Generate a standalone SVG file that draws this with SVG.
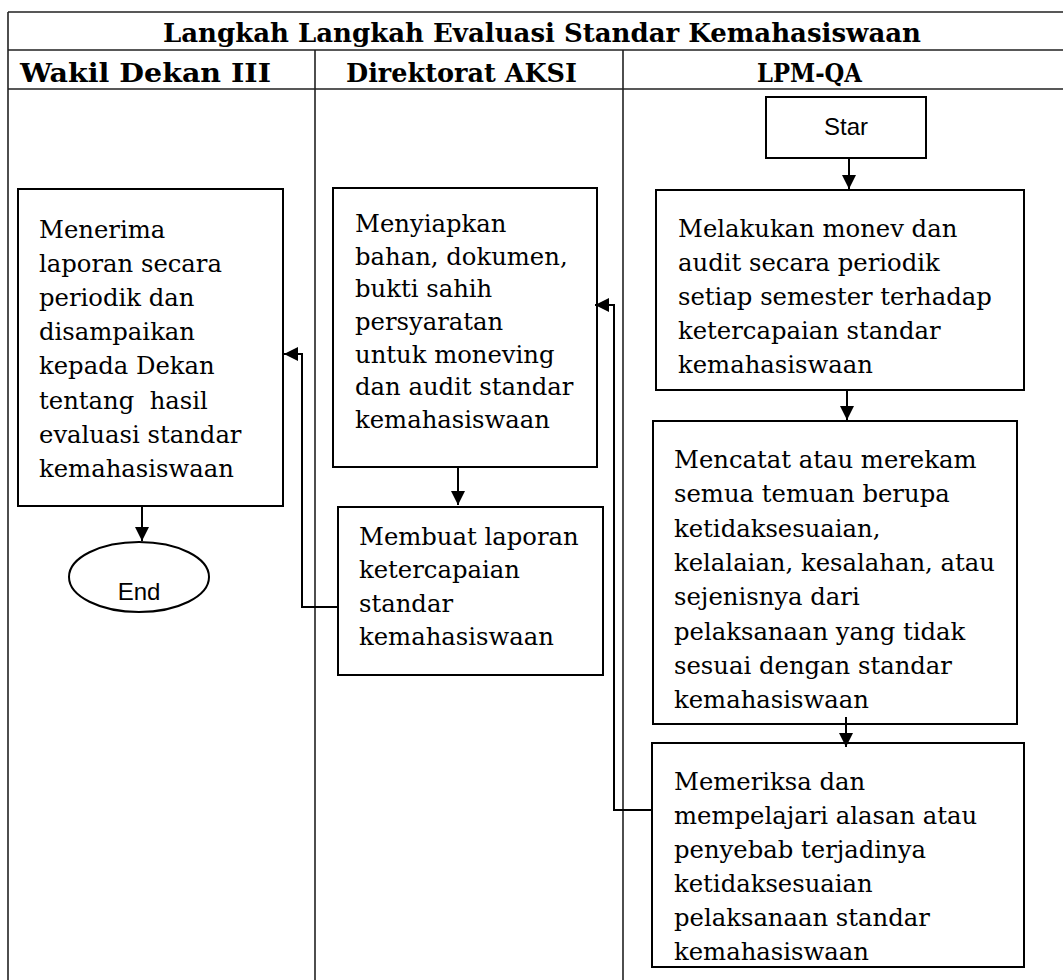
<svg xmlns="http://www.w3.org/2000/svg" width="1063" height="980" viewBox="0 0 1063 980">
<style>
.grid{stroke:#222;stroke-width:1.6;fill:none}
.box{fill:#fff;stroke:#000;stroke-width:2}
.t{font-family:"DejaVu Serif","Liberation Serif",serif;font-size:24.3px;fill:#000;white-space:pre}
.h{font-family:"DejaVu Serif","Liberation Serif",serif;font-size:26px;font-weight:bold;fill:#000}
.s{font-family:"Liberation Sans",Arial,sans-serif;font-size:24px;fill:#000;text-anchor:middle}
.c{stroke:#000;stroke-width:2;fill:none}
</style>
<defs>
<marker id="arr" markerUnits="userSpaceOnUse" markerWidth="16" markerHeight="14" refX="14" refY="7" orient="auto">
<path d="M0,0 L14,7 L0,14 Z" fill="#000"/>
</marker>
</defs>
<rect width="1063" height="980" fill="#fff"/>
<g id="table">
<path class="grid" d="M8,12 H1063 M8,50 H1063 M8,89 H1063 M8,12 V980 M315,50 V980 M623,50 V980"/>
<text class="h" x="163" y="42" textLength="758" lengthAdjust="spacingAndGlyphs">Langkah Langkah Evaluasi Standar Kemahasiswaan</text>
<text class="h" x="20" y="82" textLength="251" lengthAdjust="spacingAndGlyphs">Wakil Dekan III</text>
<text class="h" x="346" y="82" textLength="231" lengthAdjust="spacingAndGlyphs">Direktorat AKSI</text>
<text class="h" x="757" y="82" textLength="105" lengthAdjust="spacingAndGlyphs">LPM-QA</text>
</g>
<g id="star">
<rect class="box" x="766" y="97" width="160" height="61"/>
<text class="s" x="846" y="135">Star</text>
</g>
<g id="monev">
<rect class="box" x="656" y="190" width="368" height="200"/>
<text class="t" x="678" y="237">Melakukan monev dan</text>
<text class="t" x="678" y="271">audit secara periodik</text>
<text class="t" x="678" y="305">setiap semester terhadap</text>
<text class="t" x="678" y="339">ketercapaian standar</text>
<text class="t" x="678" y="373">kemahasiswaan</text>
</g>
<g id="mencatat">
<rect class="box" x="653" y="421" width="364" height="303"/>
<text class="t" x="674" y="468">Mencatat atau merekam</text>
<text class="t" x="674" y="502">semua temuan berupa</text>
<text class="t" x="674" y="537">ketidaksesuaian,</text>
<text class="t" x="674" y="571">kelalaian, kesalahan, atau</text>
<text class="t" x="674" y="605">sejenisnya dari</text>
<text class="t" x="674" y="640">pelaksanaan yang tidak</text>
<text class="t" x="674" y="674">sesuai dengan standar</text>
<text class="t" x="674" y="708">kemahasiswaan</text>
</g>
<g id="memeriksa">
<rect class="box" x="652" y="743" width="372" height="224"/>
<text class="t" x="674" y="790">Memeriksa dan</text>
<text class="t" x="674" y="824">mempelajari alasan atau</text>
<text class="t" x="674" y="858">penyebab terjadinya</text>
<text class="t" x="674" y="892">ketidaksesuaian</text>
<text class="t" x="674" y="926">pelaksanaan standar</text>
<text class="t" x="674" y="960">kemahasiswaan</text>
</g>
<g id="menyiapkan">
<rect class="box" x="333" y="188" width="264" height="279"/>
<text class="t" x="355" y="232">Menyiapkan</text>
<text class="t" x="355" y="265">bahan, dokumen,</text>
<text class="t" x="355" y="297">bukti sahih</text>
<text class="t" x="355" y="330">persyaratan</text>
<text class="t" x="355" y="363">untuk moneving</text>
<text class="t" x="355" y="395">dan audit standar</text>
<text class="t" x="355" y="428">kemahasiswaan</text>
</g>
<g id="membuat">
<rect class="box" x="338" y="507" width="265" height="168"/>
<text class="t" x="359" y="545">Membuat laporan</text>
<text class="t" x="359" y="578">ketercapaian</text>
<text class="t" x="359" y="612">standar</text>
<text class="t" x="359" y="645">kemahasiswaan</text>
</g>
<g id="menerima">
<rect class="box" x="18" y="189" width="265" height="317"/>
<text class="t" x="39" y="238">Menerima</text>
<text class="t" x="39" y="272">laporan secara</text>
<text class="t" x="39" y="306">periodik dan</text>
<text class="t" x="39" y="340">disampaikan</text>
<text class="t" x="39" y="374">kepada Dekan</text>
<text class="t" x="39" y="409">tentang  hasil</text>
<text class="t" x="39" y="443">evaluasi standar</text>
<text class="t" x="39" y="477">kemahasiswaan</text>
</g>
<g id="end">
<ellipse class="box" cx="139" cy="577" rx="70" ry="35"/>
<text class="s" x="139" y="600">End</text>
</g>
<g id="connectors">
<path class="c" d="M849,158 V189" marker-end="url(#arr)"/>
<path class="c" d="M847,390 V420" marker-end="url(#arr)"/>
<path class="c" d="M846,717 V747" marker-end="url(#arr)"/>
<path class="c" d="M652,810 H614 V305 H595" marker-end="url(#arr)"/>
<path class="c" d="M458,467 V505" marker-end="url(#arr)"/>
<path class="c" d="M338,607 H302 V354 H284" marker-end="url(#arr)"/>
<path class="c" d="M142,506 V541" marker-end="url(#arr)"/>
</g>
</svg>
